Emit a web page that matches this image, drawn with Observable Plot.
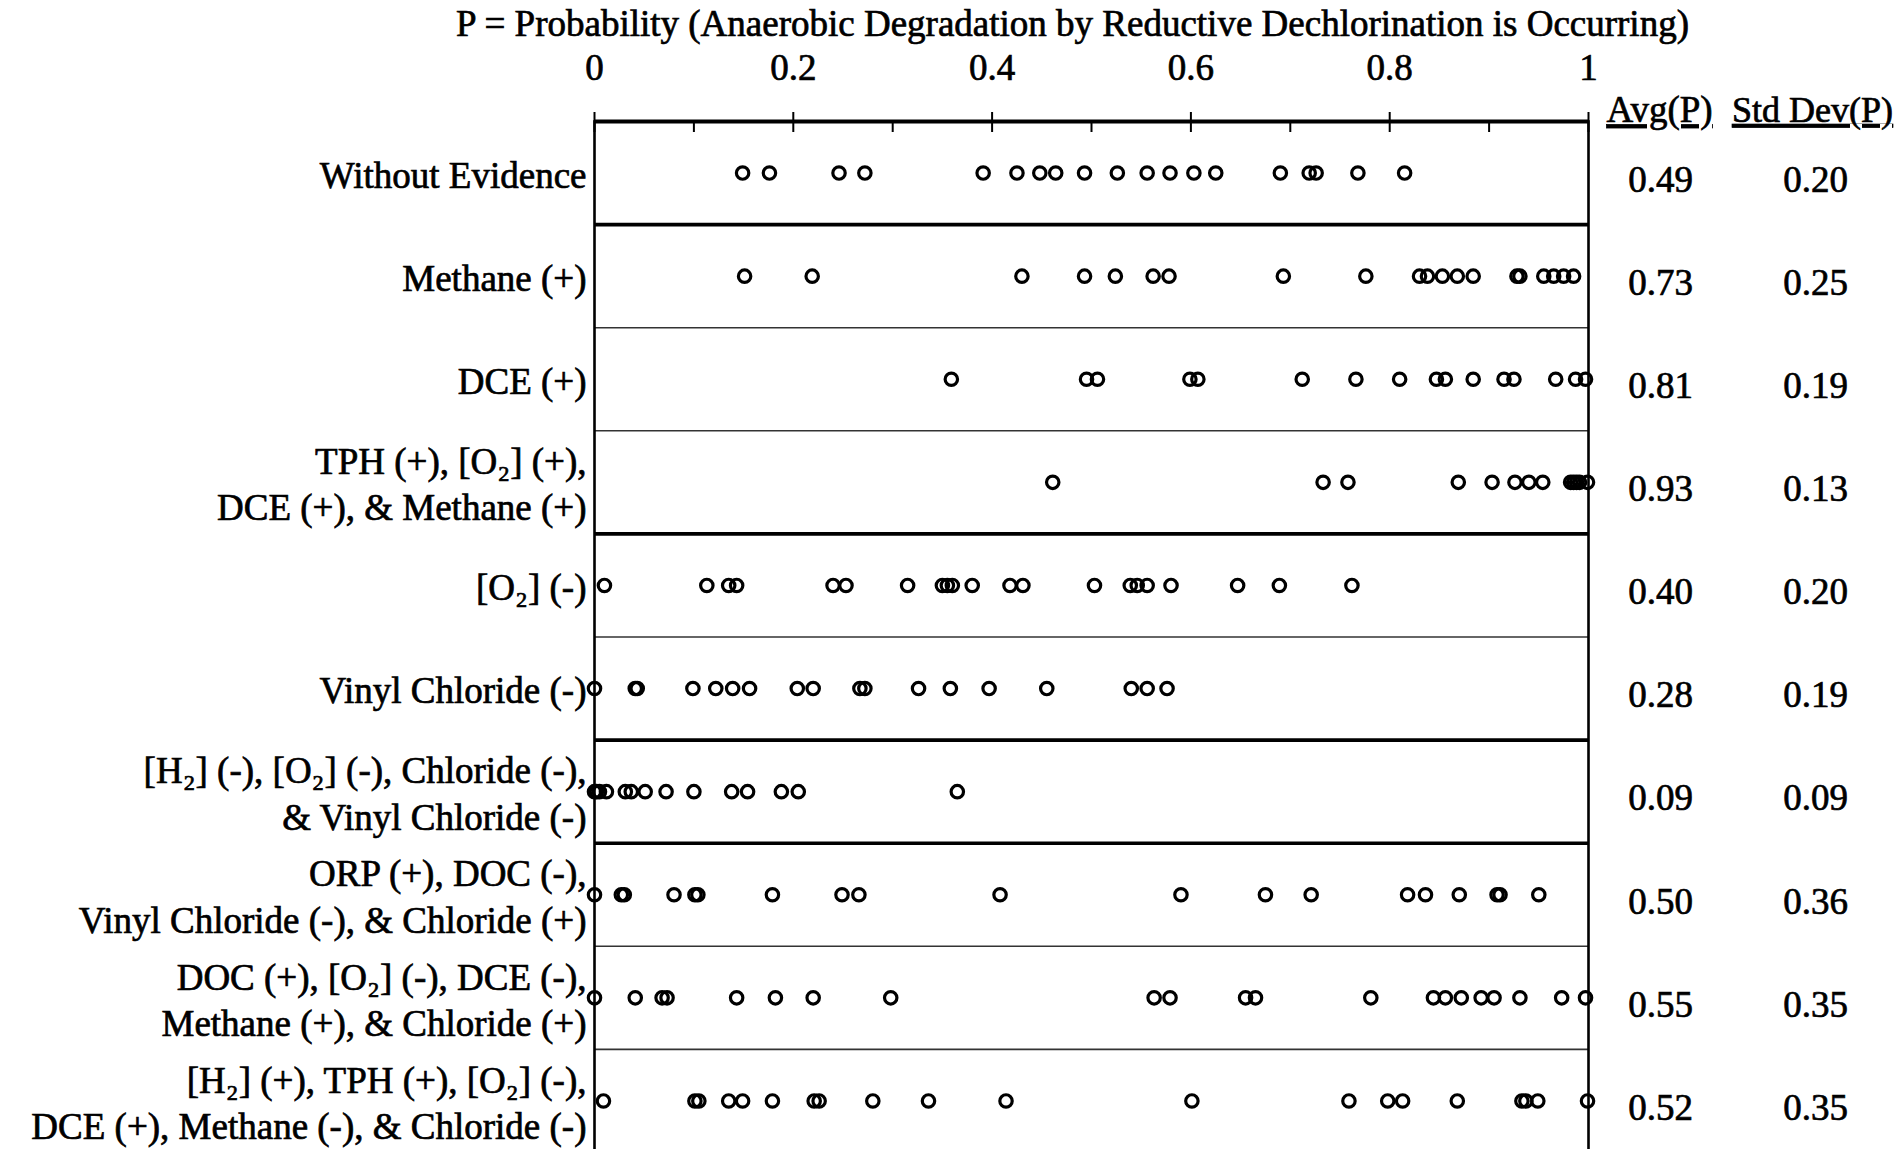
<!DOCTYPE html>
<html>
<head>
<meta charset="utf-8">
<script src="https://cdn.jsdelivr.net/npm/d3@7"></script>
<script src="https://cdn.jsdelivr.net/npm/@observablehq/plot@0.6"></script>
<style>
  html, body { margin: 0; padding: 0; background: white; overflow: hidden; }
</style>
</head>
<body>
<div id="chart"></div>
<script>
// ---- Data ----
const categories = [
  "Without Evidence",
  "Methane (+)",
  "DCE (+)",
  "TPH (+), [O\u2082] (+),\nDCE (+), & Methane (+)",
  "[O\u2082] (-)",
  "Vinyl Chloride (-)",
  "[H\u2082] (-), [O\u2082] (-), Chloride (-),\n& Vinyl Chloride (-)",
  "ORP (+), DOC (-),\nVinyl Chloride (-), & Chloride (+)",
  "DOC (+), [O\u2082] (-), DCE (-),\nMethane (+), & Chloride (+)",
  "[H\u2082] (+), TPH (+), [O\u2082] (-),\nDCE (+), Methane (-), & Chloride (-)"
];
// evidence group of each row (rows of different groups are separated by a heavy rule)
const groups = ["none", "single+", "single+", "single+", "single-", "single-", "combo-", "combo", "combo", "combo"];

const avgP = [0.49, 0.73, 0.81, 0.93, 0.40, 0.28, 0.09, 0.50, 0.55, 0.52];
const sdP  = [0.20, 0.25, 0.19, 0.13, 0.20, 0.19, 0.09, 0.36, 0.35, 0.35];

const pWithoutEvidence = [0.149,0.176,0.246,0.272,0.391,0.425,0.448,0.464,0.493,0.526,0.556,0.579,0.603,0.625,0.690,0.719,0.726,0.768,0.815];
const pMethanePos = [0.151,0.219,0.430,0.493,0.524,0.562,0.578,0.693,0.776,0.830,0.838,0.853,0.868,0.884,0.928,0.931,0.955,0.965,0.975,0.985];
const pDCEPos = [0.359,0.495,0.506,0.599,0.607,0.712,0.766,0.810,0.847,0.856,0.884,0.915,0.925,0.967,0.987,0.997];
const pTPH_O2_DCE_Methane = [0.461,0.733,0.758,0.869,0.903,0.926,0.940,0.954,0.982,0.985,0.988,0.991,0.999];
const pO2Neg = [0.010,0.113,0.135,0.143,0.240,0.253,0.315,0.350,0.355,0.360,0.380,0.418,0.431,0.503,0.539,0.546,0.556,0.580,0.647,0.689,0.762];
const pVinylChlorideNeg = [0.000,0.041,0.043,0.099,0.122,0.139,0.156,0.204,0.220,0.267,0.272,0.326,0.358,0.397,0.455,0.540,0.556,0.576];
const pH2_O2_Chloride_VC = [0.000,0.002,0.005,0.012,0.031,0.037,0.051,0.072,0.100,0.138,0.154,0.188,0.205,0.365];
const pORP_DOC_VC_Chloride = [0.000,0.027,0.030,0.080,0.101,0.104,0.179,0.249,0.266,0.408,0.590,0.675,0.721,0.818,0.836,0.870,0.908,0.911,0.950];
const pDOC_O2_DCE_Methane_Chloride = [0.000,0.041,0.068,0.073,0.143,0.182,0.220,0.298,0.563,0.579,0.655,0.665,0.781,0.844,0.856,0.872,0.892,0.905,0.931,0.973,0.997];
const pH2_TPH_O2_DCE_Methane_Chloride = [0.009,0.101,0.105,0.135,0.149,0.179,0.221,0.226,0.280,0.336,0.414,0.601,0.759,0.798,0.813,0.868,0.933,0.937,0.949,0.999];

const majorTicks = [0, 0.2, 0.4, 0.6, 0.8, 1];
const minorTicks = [0.1, 0.3, 0.5, 0.7, 0.9];
const title = "P = Probability (Anaerobic Degradation by Reductive Dechlorination is Occurring)";
const headers = ["Avg(P)", "Std Dev(P)"];

// ---- Build tables ----
const series = [pWithoutEvidence, pMethanePos, pDCEPos, pTPH_O2_DCE_Methane, pO2Neg,
  pVinylChlorideNeg, pH2_O2_Chloride_VC, pORP_DOC_VC_Chloride, pDOC_O2_DCE_Methane_Chloride,
  pH2_TPH_O2_DCE_Methane_Chloride];
const rows = categories.map((label, i) => ({i, label, avg: avgP[i], sd: sdP[i]}));
const dots = series.flatMap((vals, i) => vals.map(p => ({i, p})));
const boundaries = d3.range(1, categories.length).map(i => ({y: i - 0.5, thick: groups[i] !== groups[i - 1]}));

const FONT = "'Liberation Serif', 'Times New Roman', serif";
const FS = 37;

const chart = Plot.plot({
  width: 1895,
  height: 1152,
  marginLeft: 594,
  marginRight: 307,
  marginTop: 121,
  marginBottom: 0,
  style: {fontFamily: FONT, fontSize: FS + "px", background: "white", color: "black"},
  x: {domain: [0, 1]},
  y: {domain: [-0.5, categories.length - 0.5], reverse: true, axis: null},
  marks: [
    Plot.ruleY(boundaries.filter(b => !b.thick), {y: "y", stroke: "#333", strokeWidth: 1.6}),
    Plot.ruleY(boundaries.filter(b => b.thick), {y: "y", stroke: "black", strokeWidth: 3.6}),
    Plot.frame({stroke: "black", strokeWidth: 2.6}),
    Plot.ruleY([-0.5], {stroke: "black", strokeWidth: 4}),
    Plot.axisX({anchor: "top", ticks: majorTicks, tickSize: 10, tickPadding: 32, strokeWidth: 2,
      tickFormat: d => String(d), fontSize: FS, label: null}),
    Plot.axisX({anchor: "top", ticks: majorTicks.concat(minorTicks), tickSize: -10, strokeWidth: 2,
      tickFormat: () => "", label: null}),
    Plot.dot(dots, {x: "p", y: "i", r: 6.2, stroke: "black", strokeWidth: 3.2, fill: "none"}),
    Plot.text(rows, {x: 0, y: "i", text: "label", textAnchor: "end", dx: -8, lineHeight: 1.25, fontSize: FS}),
    Plot.text(rows, {frameAnchor: "right", y: "i", text: d => d.avg.toFixed(2), textAnchor: "middle", dx: 72, dy: 7, fontSize: FS}),
    Plot.text(rows, {frameAnchor: "right", y: "i", text: d => d.sd.toFixed(2), textAnchor: "middle", dx: 227, dy: 7, fontSize: FS}),
    Plot.text([headers[0]], {frameAnchor: "top-right", text: d => d, textAnchor: "middle", lineAnchor: "middle", dx: 71, dy: -11, fontSize: 37}),
    Plot.text([headers[1]], {frameAnchor: "top-right", text: d => d, textAnchor: "middle", lineAnchor: "middle", dx: 224, dy: -11, fontSize: 36}),
    Plot.text([title], {frameAnchor: "top", text: d => d, textAnchor: "middle", lineAnchor: "middle", dx: -19, dy: -97, fontSize: FS})
  ]
});
// print-like weight for all text, and underlined column headers
chart.querySelectorAll("text").forEach(t => {
  t.style.stroke = "black";
  t.style.strokeWidth = "0.7px";
  if (headers.includes(t.textContent)) t.style.textDecoration = "underline";
});
document.getElementById("chart").appendChild(chart);
</script>
</body>
</html>
